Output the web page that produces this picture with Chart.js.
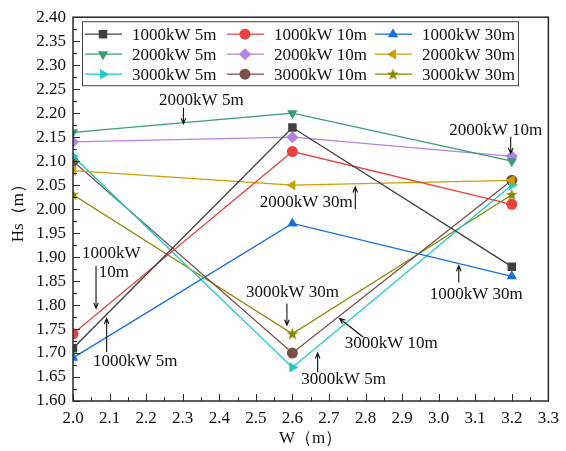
<!DOCTYPE html>
<html>
<head>
<meta charset="utf-8">
<script src="https://cdn.jsdelivr.net/npm/chart.js@4.4.1/dist/chart.umd.min.js"></script>
<style>
	html, body { margin: 0; padding: 0; background: #fff; }
</style>
</head>
<body>
<canvas id="hsChart" width="566" height="451"></canvas>
<script>
// wave width W (m) on the x axis
var widths = [2.0, 2.6, 3.2];

var seriesNames = [
	'1000kW 5m', '1000kW 10m', '1000kW 30m',
	'2000kW 5m', '2000kW 10m', '2000kW 30m',
	'3000kW 5m', '3000kW 10m', '3000kW 30m'
];

// Hs (m)
var hs1000_5  = [1.71, 2.17, 1.88];
var hs1000_10 = [1.74, 2.12, 2.01];
var hs1000_30 = [1.69, 1.97, 1.86];
var hs2000_5  = [2.16, 2.20, 2.10];
var hs2000_10 = [2.14, 2.15, 2.11];
var hs2000_30 = [2.08, 2.05, 2.06];
var hs3000_5  = [2.11, 1.67, 2.05];
var hs3000_10 = [2.10, 1.70, 2.06];
var hs3000_30 = [2.03, 1.74, 2.03];

var allSeries = [hs1000_5, hs1000_10, hs1000_30, hs2000_5, hs2000_10, hs2000_30, hs3000_5, hs3000_10, hs3000_30];

var xTickLabels = ['2.0','2.1','2.2','2.3','2.4','2.5','2.6','2.7','2.8','2.9','3.0','3.1','3.2','3.3'];
var yTickLabels = ['1.60','1.65','1.70','1.75','1.80','1.85','1.90','1.95','2.00','2.05','2.10','2.15','2.20','2.25','2.30','2.35','2.40'];

// annotation labels with arrows (in data units)
var notes = [
	{ lines: [['2000kW 5m', 2.351, 2.226]], from: [2.302, 2.211], to: [2.302, 2.178] },
	{ lines: [['2000kW 10m', 3.156, 2.164]], from: [3.197, 2.151], to: [3.197, 2.116] },
	{ lines: [['2000kW 30m', 2.638, 2.014]], from: [2.772, 2.000], to: [2.772, 2.046] },
	{ lines: [['1000kW', 2.105, 1.907], ['10m', 2.112, 1.867]], from: [2.063, 1.882], to: [2.063, 1.793] },
	{ lines: [['1000kW 5m', 2.170, 1.683]], from: [2.092, 1.702], to: [2.092, 1.772] },
	{ lines: [['3000kW 30m', 2.600, 1.826]], from: [2.585, 1.803], to: [2.585, 1.758] },
	{ lines: [['3000kW 10m', 2.870, 1.720]], from: [2.794, 1.733], to: [2.729, 1.772] },
	{ lines: [['3000kW 5m', 2.740, 1.644]], from: [2.669, 1.660], to: [2.669, 1.700] },
	{ lines: [['1000kW 30m', 3.103, 1.822]], from: [3.055, 1.847], to: [3.055, 1.882] }
];

var colors = ['#404040', '#e8423f', '#1b6fd8', '#3a9f6f', '#b282e6', '#c9a000', '#1fcaca', '#7a4e49', '#888800'];

function makeStar(color) {
	var c = document.createElement('canvas');
	c.width = 13; c.height = 13;
	var g = c.getContext('2d');
	g.fillStyle = color;
	g.beginPath();
	for (var i = 0; i < 10; i++) {
		var r = i % 2 ? 2.6 : 6.3;
		var a = -Math.PI / 2 + i * Math.PI / 5;
		g.lineTo(6.5 + r * Math.cos(a), 6.8 + r * Math.sin(a));
	}
	g.closePath();
	g.fill();
	return c;
}

var markers = [
	{ style: 'rect', rot: 0 },
	{ style: 'circle', rot: 0 },
	{ style: 'triangle', rot: 0 },
	{ style: 'triangle', rot: 180 },
	{ style: 'rectRot', rot: 0 },
	{ style: 'triangle', rot: -90 },
	{ style: 'triangle', rot: 90 },
	{ style: 'circle', rot: 0 },
	{ style: makeStar(colors[8]), rot: 0 }
];

var datasets = allSeries.map(function (vals, i) {
	return {
		label: seriesNames[i],
		data: vals.map(function (v, j) { return { x: widths[j], y: v }; }),
		borderColor: colors[i],
		backgroundColor: colors[i],
		borderWidth: 1.3,
		pointStyle: markers[i].style,
		rotation: markers[i].rot,
		pointRadius: i === 1 || i === 7 ? 5.5 : 6,
		pointBorderWidth: 0,
		tension: 0
	};
});

var FONT = '"Liberation Serif", "Times New Roman", serif';

var framePlugin = {
	id: 'framePlugin',
	afterDraw: function (chart) {
		var ctx = chart.ctx, a = chart.chartArea;
		var xs = chart.scales.x, ys = chart.scales.y;
		ctx.save();
		ctx.strokeStyle = '#2a2a2a';
		ctx.lineWidth = 1;
		ctx.beginPath();
		var i, p;
		for (i = 0; i <= 26; i++) {
			p = Math.round(xs.getPixelForValue(2.0 + i * 0.05)) + 0.5;
			ctx.moveTo(p, a.bottom);
			ctx.lineTo(p, a.bottom - (i % 2 ? 4 : 7));
		}
		for (i = 0; i <= 32; i++) {
			p = Math.round(ys.getPixelForValue(1.6 + i * 0.025)) + 0.5;
			ctx.moveTo(a.left, p);
			ctx.lineTo(a.left + (i % 2 ? 4 : 7), p);
		}
		ctx.stroke();
		ctx.lineWidth = 1.5;
		ctx.strokeRect(a.left, a.top, a.right - a.left, a.bottom - a.top);

		// legend
		var lx = a.left + 9, ly = a.top + 4, lw = 436, lh = 64;
		ctx.fillStyle = '#fff';
		ctx.fillRect(lx, ly, lw, lh);
		ctx.lineWidth = 1;
		ctx.strokeStyle = '#444';
		ctx.strokeRect(lx + 0.5, ly + 0.5, lw, lh);
		ctx.font = '17px ' + FONT;
		ctx.textBaseline = 'middle';
		ctx.textAlign = 'left';
		var colX = [3, 145, 293];
		chart.data.datasets.forEach(function (ds, k) {
			var cx = lx + colX[k % 3], cy = ly + 13 + Math.floor(k / 3) * 20;
			ctx.strokeStyle = ds.borderColor;
			ctx.fillStyle = ds.backgroundColor;
			ctx.lineWidth = 1.3;
			ctx.beginPath();
			ctx.moveTo(cx, cy);
			ctx.lineTo(cx + 37, cy);
			ctx.stroke();
			Chart.helpers.drawPoint(ctx, { pointStyle: ds.pointStyle, rotation: ds.rotation, radius: ds.pointRadius, borderWidth: 0 }, cx + 18, cy);
			ctx.fillStyle = '#111';
			ctx.fillText(ds.label, cx + 47, cy + 1);
		});

		// annotations
		ctx.fillStyle = '#111';
		ctx.strokeStyle = '#111';
		ctx.textAlign = 'center';
		notes.forEach(function (n) {
			n.lines.forEach(function (t) {
				ctx.fillText(t[0], xs.getPixelForValue(t[1]), ys.getPixelForValue(t[2]));
			});
			var x1 = xs.getPixelForValue(n.from[0]), y1 = ys.getPixelForValue(n.from[1]);
			var x2 = xs.getPixelForValue(n.to[0]), y2 = ys.getPixelForValue(n.to[1]);
			var ang = Math.atan2(y2 - y1, x2 - x1);
			ctx.lineWidth = 1.1;
			ctx.beginPath();
			ctx.moveTo(x1, y1);
			ctx.lineTo(x2, y2);
			ctx.moveTo(x2 - 6 * Math.cos(ang - 0.4), y2 - 6 * Math.sin(ang - 0.4));
			ctx.lineTo(x2, y2);
			ctx.lineTo(x2 - 6 * Math.cos(ang + 0.4), y2 - 6 * Math.sin(ang + 0.4));
			ctx.stroke();
		});
		ctx.restore();
	}
};

var ctx = document.getElementById('hsChart').getContext('2d');
var hsChart = new Chart(ctx, {
	type: 'line',
	data: { datasets: datasets },
	options: {
		responsive: false,
		animation: false,
		layout: { padding: { top: 15, right: 15, left: 0, bottom: 0 } },
		plugins: {
			legend: { display: false },
			tooltip: { enabled: false }
		},
		scales: {
			x: {
				type: 'linear',
				min: 2.0,
				max: 3.3,
				afterFit: function (s) { s.height = 50; },
				grid: { display: false, drawTicks: false },
				border: { display: false },
				ticks: {
					stepSize: 0.1,
					maxTicksLimit: 100,
					autoSkip: false,
					maxRotation: 0,
					padding: 7,
					color: '#111',
					font: { family: FONT, size: 17 },
					callback: function (v) { return xTickLabels[Math.round((v - 2.0) / 0.1)]; }
				},
				title: {
					display: true,
					text: 'W（m）',
					color: '#111',
					padding: { top: 0, bottom: 2 },
					font: { family: FONT, size: 17 }
				}
			},
			y: {
				min: 1.6,
				max: 2.4,
				afterFit: function (s) { s.width = 73; },
				grid: { display: false, drawTicks: false },
				border: { display: false },
				ticks: {
					stepSize: 0.05,
					maxTicksLimit: 100,
					autoSkip: false,
					padding: 7,
					color: '#111',
					font: { family: FONT, size: 17 },
					callback: function (v) { return yTickLabels[Math.round((v - 1.6) / 0.05)]; }
				},
				title: {
					display: true,
					text: 'Hs（m）',
					color: '#111',
					padding: { top: 8, bottom: 0 },
					font: { family: FONT, size: 17 }
				}
			}
		}
	},
	plugins: [framePlugin]
});
</script>
</body>
</html>
